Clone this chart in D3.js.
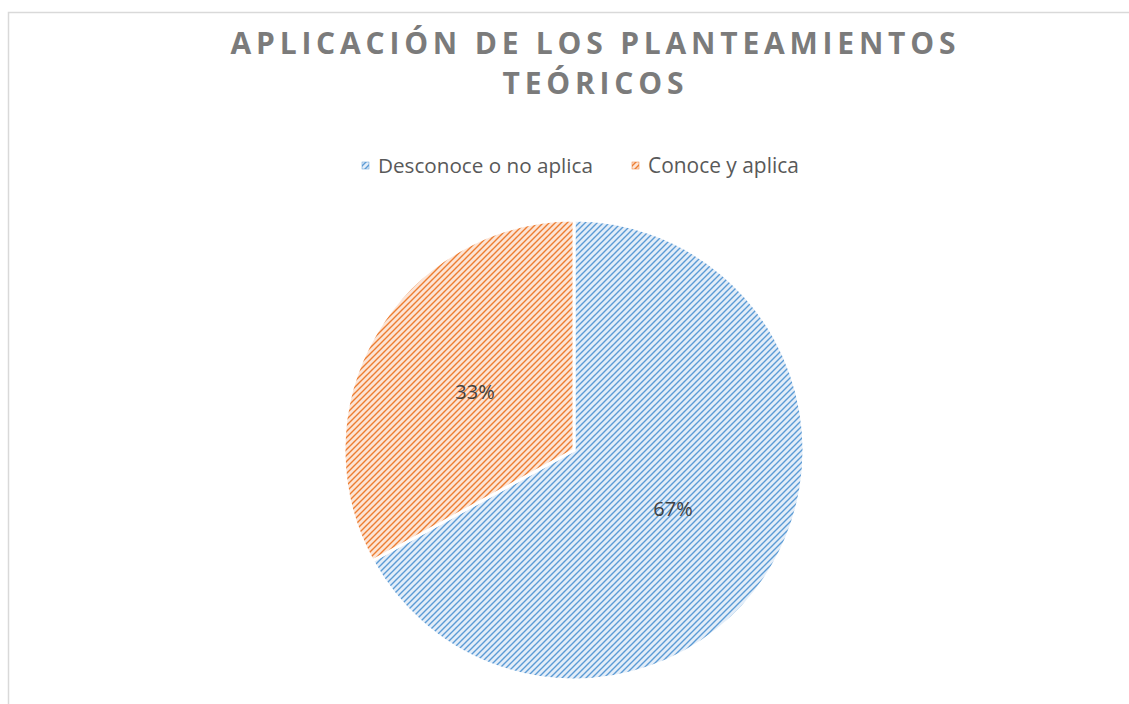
<!DOCTYPE html>
<html><head><meta charset="utf-8">
<script src="https://cdn.jsdelivr.net/npm/d3@7"></script>
<style>html,body{margin:0;padding:0;background:#fff;overflow:hidden}</style>
</head><body>
<svg id="c" width="1129" height="704"></svg>
<script>
const titleLines = ["APLICACIÓN DE LOS PLANTEAMIENTOS", "TEÓRICOS"];
const categories = ["Desconoce o no aplica", "Conoce y aplica"];
const values = [67, 33];
const labels = ["67%", "33%"];
const colors = ["#5b9bd5", "#ed7d31"];
const tints = ["#e3edf8", "#fce4d5"];

const svg = d3.select("#c");
const font = "'Open Sans', 'Liberation Sans', sans-serif";

// border
svg.append("rect").attr("x", 8.5).attr("y", 12.5).attr("width", 1140).attr("height", 720)
  .attr("fill", "none").attr("stroke", "#d9d9d9").attr("stroke-width", 1.5);

// patterns
const defs = svg.append("defs");
categories.forEach((c, i) => {
  const p = defs.append("pattern").attr("id", "pat" + i).attr("patternUnits", "userSpaceOnUse")
    .attr("width", 6).attr("height", 6);
  p.append("rect").attr("width", 6).attr("height", 6).attr("fill", tints[i]);
  p.append("path").attr("d", "M-1,7 L7,-1 M-1,1 L1,-1 M5,7 L7,5")
    .attr("stroke", colors[i]).attr("stroke-width", 1.4).attr("fill", "none");
});

// title
const titleWidths = [725, 181];
const titleY = [54, 94];
titleLines.forEach((t, i) => {
  const tx = svg.append("text").attr("x", 593).attr("y", titleY[i]).attr("text-anchor", "middle")
    .attr("font-family", font).attr("font-weight", "bold").attr("font-size", 30)
    .attr("fill", "#7b7b7b").text(t);
  const n = t.length;
  const base = tx.node().getComputedTextLength();
  const ls = (titleWidths[i] - base) / (n - 1);
  tx.attr("letter-spacing", ls).attr("x", 593 + ls / 2);
});

// legend
const legX = [362, 632];
const legW = [215, 151];
categories.forEach((c, i) => {
  svg.append("rect").attr("x", legX[i]).attr("y", 162).attr("width", 7).attr("height", 7)
    .attr("fill", "url(#pat" + i + ")").attr("stroke", colors[i]).attr("stroke-width", 0.5);
  const t = svg.append("text").attr("x", legX[i] + 16).attr("y", 172.5)
    .attr("font-family", font).attr("font-size", 19).attr("fill", "#595959").text(c);
  const w = t.node().getComputedTextLength();
  t.attr("font-size", 19 * legW[i] / w);
});

// pie
const cx = 574, cy = 450, r = 230;
const pie = d3.pie().sort(null).value(d => d)(values);
const arc = d3.arc().innerRadius(0).outerRadius(r);
const g = svg.append("g").attr("transform", `translate(${cx},${cy})`);
g.selectAll("path").data(pie).join("path")
  .attr("d", arc).attr("fill", (d, i) => "url(#pat" + i + ")")
  .attr("stroke", "#fff").attr("stroke-width", 3);

const labelArc = d3.arc().innerRadius(r * 0.5).outerRadius(r * 0.5);
g.selectAll("text.lbl").data(pie).join("text").attr("class", "lbl")
  .attr("transform", d => `translate(${labelArc.centroid(d)})`)
  .attr("text-anchor", "middle").attr("dy", "0.36em")
  .attr("font-family", font).attr("font-size", 20).attr("fill", "#404040")
  .text((d, i) => labels[i]);
</script>
</body></html>
